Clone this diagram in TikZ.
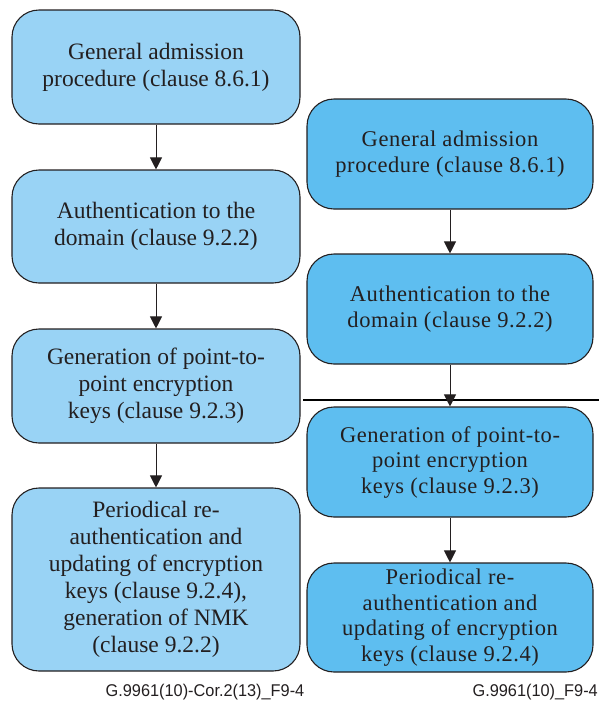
\documentclass[tikz,border=0pt]{standalone}
\usepackage{fontspec}
\setmainfont{Liberation Serif}
\setsansfont{Liberation Sans}
\newfontfamily\spacedserif[LetterSpace=2.5]{Liberation Serif}
\usetikzlibrary{arrows.meta}
\definecolor{lightbox}{HTML}{99D3F5}
\definecolor{darkbox}{HTML}{5EBEF0}
\definecolor{ink}{HTML}{231F20}
\tikzset{
  x=1pt, y=1pt,
  boxbase/.style={draw=ink, line width=1.1pt, rounded corners=27pt, align=center,
    text=ink, inner sep=0pt, font=\fontsize{23.5}{27}\selectfont},
  leftbox/.style={boxbase, fill=lightbox, minimum width=288pt},
  rightbox/.style={boxbase, fill=darkbox, minimum width=286pt,
    font=\spacedserif\fontsize{22.5}{25.5}\selectfont},
  flow/.style={draw=ink, line width=1pt, -{Triangle[width=12pt,length=12pt]}},
  caption/.style={font=\sffamily\fontsize{17}{20}\selectfont, text=ink, inner sep=0pt}
}
\begin{document}
\begin{tikzpicture}
\useasboundingbox (0,0) rectangle (599,-702);
% left column
\node[leftbox, minimum height=114pt] (L1) at (156,-67) {General admission\\procedure (clause 8.6.1)};
\node[leftbox, minimum height=113pt] (L2) at (156,-226.5) {Authentication to the\\domain (clause 9.2.2)};
\node[leftbox, minimum height=114pt] (L3) at (156,-386) {Generation of point-to-\\point encryption\\keys (clause 9.2.3)};
\node[leftbox, minimum height=183pt] (L4) at (156,-579.5) {Periodical re-\\authentication and\\updating of encryption\\keys (clause 9.2.4),\\generation of NMK\\(clause 9.2.2)};
\draw[flow] (L1) -- (L2);
\draw[flow] (L2) -- (L3);
\draw[flow] (L3) -- (L4);
% right column
\node[rightbox, minimum height=110pt] (R1) at (450,-154) {General admission\\procedure (clause 8.6.1)};
\node[rightbox, minimum height=110pt] (R2) at (450,-309) {Authentication to the\\domain (clause 9.2.2)};
\node[rightbox, minimum height=110pt] (R3) at (450,-462) {Generation of point-to-\\point encryption\\keys (clause 9.2.3)};
\node[rightbox, minimum height=109pt] (R4) at (450,-617.5) {Periodical re-\\authentication and\\updating of encryption\\keys (clause 9.2.4)};
\coordinate (sepA) at (303,-400);
\coordinate (sepB) at (599,-400);
\draw[line width=1.8pt, black] (sepA) -- (sepB);
\draw[flow] (R1) -- (R2);
\draw[flow] (R2) -- (R3);
\draw[flow] (R3) -- (R4);
% captions
\node[caption] (capL) at (205,-692) {\scalebox{0.96}[1]{G.9961(10)-Cor.2(13)\_F9-4}};
\node[caption, anchor=east] (capR) at (598,-692) {\scalebox{0.96}[1]{G.9961(10)\_F9-4}};
\end{tikzpicture}
\end{document}
